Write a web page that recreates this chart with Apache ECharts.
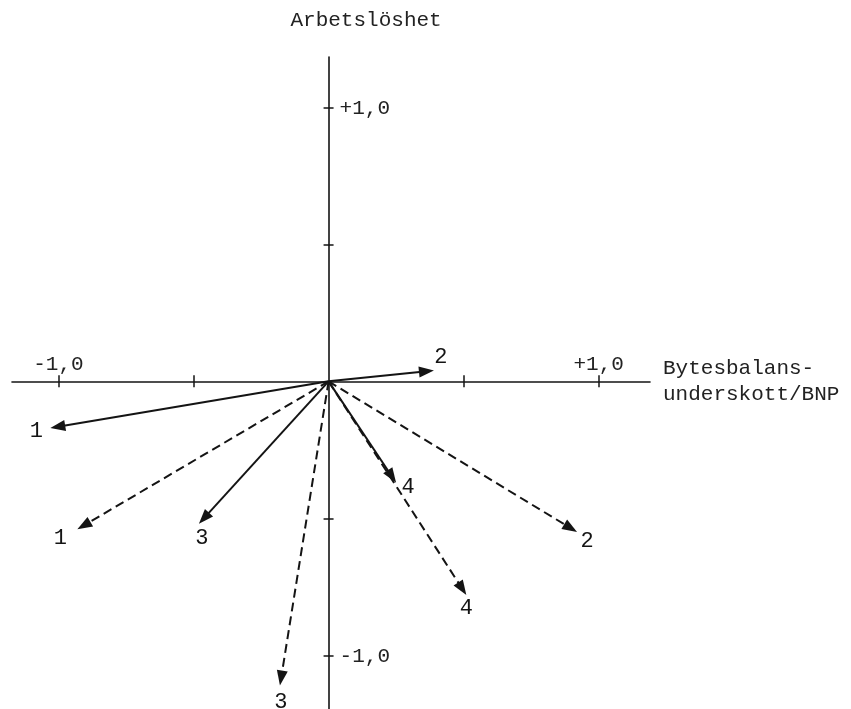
<!DOCTYPE html>
<html>
<head>
<meta charset="utf-8">
<script src="https://cdn.jsdelivr.net/npm/echarts@6/dist/echarts.min.js"></script>
<style>
  html, body { margin: 0; padding: 0; background: #fff; }
  #chart { width: 851px; height: 709px; }
</style>
</head>
<body>
<div id="chart"></div>
<script>
// Vector end points (x: Bytesbalansunderskott/BNP, y: Arbetslöshet)
const vectorIds = ['1', '2', '3', '4'];
const solidX  = [-1.03, 0.39, -0.48, 0.25];
const solidY  = [-0.17, 0.04, -0.52, -0.37];
const dashedX = [-0.93, 0.92, -0.18, 0.51];
const dashedY = [-0.54, -0.55, -1.11, -0.78];

// Axis ticks and labelled values
const xTickValues = [-1, -0.5, 0.5, 1];
const yTickValues = [-1, -0.5, 0.5, 1];
const xLabelValues = [-1, 1];
const yLabelValues = [-1, 1];
const xAxisName = 'Bytesbalans-\nunderskott/BNP';
const yAxisName = 'Arbetslöshet';

// Pixel nudges of the vector numbers relative to the arrow tips
const solidLabelShift  = [[-14, 3], [7, -13], [3, 14], [12, 4]];
const dashedLabelShift = [[-17, 9], [10, 9], [1, 17], [0, 13]];

const INK = '#141414';
const FONT = '"Liberation Mono", "DejaVu Sans Mono", monospace';

function fmt(v) {
  return (v > 0 ? '+' : '') + v.toFixed(1).replace('.', ',');
}

function arrowRenderer(dashed, shifts) {
  return function (params, api) {
    const o = api.coord([0, 0]);
    const p = api.coord([api.value(0), api.value(1)]);
    const dx = p[0] - o[0], dy = p[1] - o[1];
    const len = Math.hypot(dx, dy);
    const ux = dx / len, uy = dy / len;
    const head = 15, half = 5.5;
    const bx = p[0] - ux * head, by = p[1] - uy * head;
    const s = shifts[params.dataIndex];
    return {
      type: 'group',
      children: [
        {
          type: 'line',
          shape: { x1: o[0], y1: o[1], x2: bx + ux * 3, y2: by + uy * 3 },
          style: { stroke: INK, lineWidth: 2, lineDash: dashed ? [9, 5] : null }
        },
        {
          type: 'polygon',
          shape: { points: [[p[0], p[1]], [bx - uy * half, by + ux * half], [bx + uy * half, by - ux * half]] },
          style: { fill: INK }
        },
        {
          type: 'text',
          x: p[0] + s[0],
          y: p[1] + s[1],
          style: {
            text: vectorIds[params.dataIndex],
            fill: INK,
            font: '22px ' + FONT,
            align: 'center',
            verticalAlign: 'middle'
          }
        }
      ]
    };
  };
}

// Tick labels placed on the zero lines through the value scales
function xTickLabel(params, api) {
  const p = api.coord([api.value(0), 0]);
  return {
    type: 'text', x: p[0], y: p[1] - 6,
    style: { text: fmt(api.value(0)), fill: '#222', font: '21px ' + FONT, align: 'center', verticalAlign: 'bottom' }
  };
}
function yTickLabel(params, api) {
  const p = api.coord([0, api.value(0)]);
  return {
    type: 'text', x: p[0] + 11, y: p[1] + 1,
    style: { text: fmt(api.value(0)), fill: '#222', font: '21px ' + FONT, align: 'left', verticalAlign: 'middle' }
  };
}

const axisLineStyle = { color: INK, width: 1.6 };
const tickStyle = { color: INK, width: 1.5 };

const option = {
  backgroundColor: '#fff',
  animation: false,
  grid: { left: 12, right: 201, top: 57, bottom: 0, containLabel: false },
  xAxis: [
    {
      type: 'value', min: -1.172, max: 1.19, position: 'bottom',
      axisLine: { onZero: true, onZeroAxisIndex: 0, lineStyle: axisLineStyle },
      axisTick: { show: true, customValues: xTickValues, length: 6, lineStyle: tickStyle },
      axisLabel: { show: false },
      splitLine: { show: false },
      name: xAxisName, nameLocation: 'end', nameGap: 13,
      nameTextStyle: {
        fontFamily: FONT, fontSize: 21, color: '#222', lineHeight: 26,
        align: 'left', verticalAlign: 'middle', padding: [0, 0, 15, 0]
      }
    },
    {
      type: 'value', min: -1.172, max: 1.19, position: 'top',
      axisLine: { show: false, onZero: true, onZeroAxisIndex: 0 },
      axisTick: { show: true, customValues: xTickValues, length: 6, lineStyle: tickStyle },
      axisLabel: { show: false },
      splitLine: { show: false }
    }
  ],
  yAxis: [
    {
      type: 'value', min: -1.196, max: 1.184, position: 'left',
      axisLine: { onZero: true, onZeroAxisIndex: 0, lineStyle: axisLineStyle },
      axisTick: { show: true, customValues: yTickValues, length: 5, lineStyle: tickStyle },
      axisLabel: { show: false },
      splitLine: { show: false },
      name: yAxisName, nameLocation: 'end', nameGap: 26,
      nameTextStyle: { fontFamily: FONT, fontSize: 21, color: '#222', padding: [0, 0, 0, 75] }
    },
    {
      type: 'value', min: -1.196, max: 1.184, position: 'right',
      axisLine: { show: false, onZero: true, onZeroAxisIndex: 0 },
      axisTick: { show: true, customValues: yTickValues, length: 5, lineStyle: tickStyle },
      axisLabel: { show: false },
      splitLine: { show: false }
    }
  ],
  series: [
    {
      name: 'solid', type: 'custom', xAxisIndex: 0, yAxisIndex: 0,
      renderItem: arrowRenderer(false, solidLabelShift),
      data: solidX.map((x, i) => [x, solidY[i]])
    },
    {
      name: 'dashed', type: 'custom', xAxisIndex: 0, yAxisIndex: 0,
      renderItem: arrowRenderer(true, dashedLabelShift),
      data: dashedX.map((x, i) => [x, dashedY[i]])
    },
    {
      name: 'xTicks', type: 'custom', xAxisIndex: 0, yAxisIndex: 0, silent: true,
      renderItem: xTickLabel,
      data: xLabelValues.map(v => [v])
    },
    {
      name: 'yTicks', type: 'custom', xAxisIndex: 0, yAxisIndex: 0, silent: true,
      renderItem: yTickLabel,
      data: yLabelValues.map(v => [v])
    }
  ]
};

const chart = echarts.init(document.getElementById('chart'), null, { renderer: 'canvas' });
chart.setOption(option);
</script>
</body>
</html>
